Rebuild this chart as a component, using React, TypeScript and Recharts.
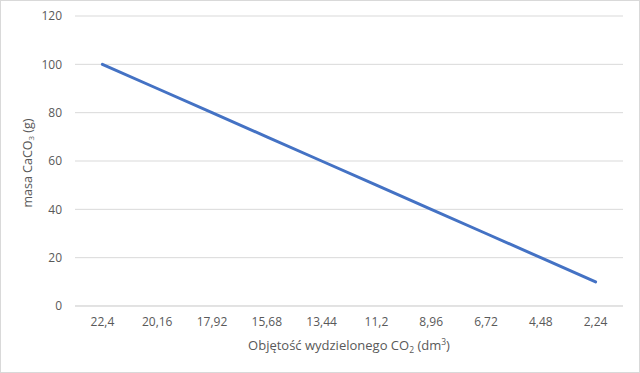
import { LineChart, Line, XAxis, YAxis, CartesianGrid } from "recharts"

if (typeof document !== "undefined") document.body.style.margin = "0"

const volumes = ["22,4", "20,16", "17,92", "15,68", "13,44", "11,2", "8,96", "6,72", "4,48", "2,24"]
const masses = [100, 90, 80, 70, 60, 50, 40, 30, 20, 10]
const yTicks = [0, 20, 40, 60, 80, 100, 120]

const data = volumes.map((v, i) => ({ volume: v, mass: masses[i] }))

const FONT = "'Open Sans', sans-serif"
const GRAY = "#595959"

function YLabel() {
  return (
    <text
      x={26}
      y={162}
      transform="rotate(-90 26 162)"
      textAnchor="middle"
      dominantBaseline="central"
      fontSize={12.5}
      fontFamily={FONT}
      fill={GRAY}
    >
      masa CaCO
      <tspan fontSize={8} dy={3}>3</tspan>
      <tspan dy={-3}> (g)</tspan>
    </text>
  )
}

function XLabel() {
  return (
    <text x={348} y={349} textAnchor="middle" fontSize={13} fontFamily={FONT} fill={GRAY}>
      Objętość wydzielonego CO
      <tspan fontSize={8.5} dy={3}>2</tspan>
      <tspan dy={-3}> (dm</tspan>
      <tspan fontSize={8.5} dy={-5}>3</tspan>
      <tspan dy={5}>)</tspan>
    </text>
  )
}

export default function App() {
  return (
    <div
      style={{
        width: 640,
        height: 373,
        boxSizing: "border-box",
        border: "1px solid #d9d9d9",
        background: "#fff",
        position: "relative",
      }}
    >
      <LineChart
        width={638}
        height={371}
        data={data}
        margin={{ top: 15, right: 16, bottom: 36, left: 0 }}
        style={{ position: "absolute", left: 0, top: 0 }}
      >
        <CartesianGrid vertical={false} stroke="#d9d9d9" />
        <XAxis
          dataKey="volume"
          height={30}
          padding={{ left: 27.4, right: 27.4 }}
          axisLine={{ stroke: "#d9d9d9" }}
          tickLine={false}
          tickMargin={5}
          tick={{ fontSize: 12, fontFamily: FONT, fill: GRAY }}
          interval={0}
        />
        <YAxis
          width={74}
          domain={[0, 120]}
          ticks={yTicks}
          axisLine={false}
          tickLine={false}
          tickMargin={7}
          tick={{ fontSize: 12, fontFamily: FONT, fill: GRAY }}
        />
        <Line
          type="linear"
          dataKey="mass"
          stroke="#4472C4"
          strokeWidth={3}
          strokeLinecap="round"
          dot={false}
          isAnimationActive={false}
        />
        <YLabel />
        <XLabel />
      </LineChart>
    </div>
  )
}
